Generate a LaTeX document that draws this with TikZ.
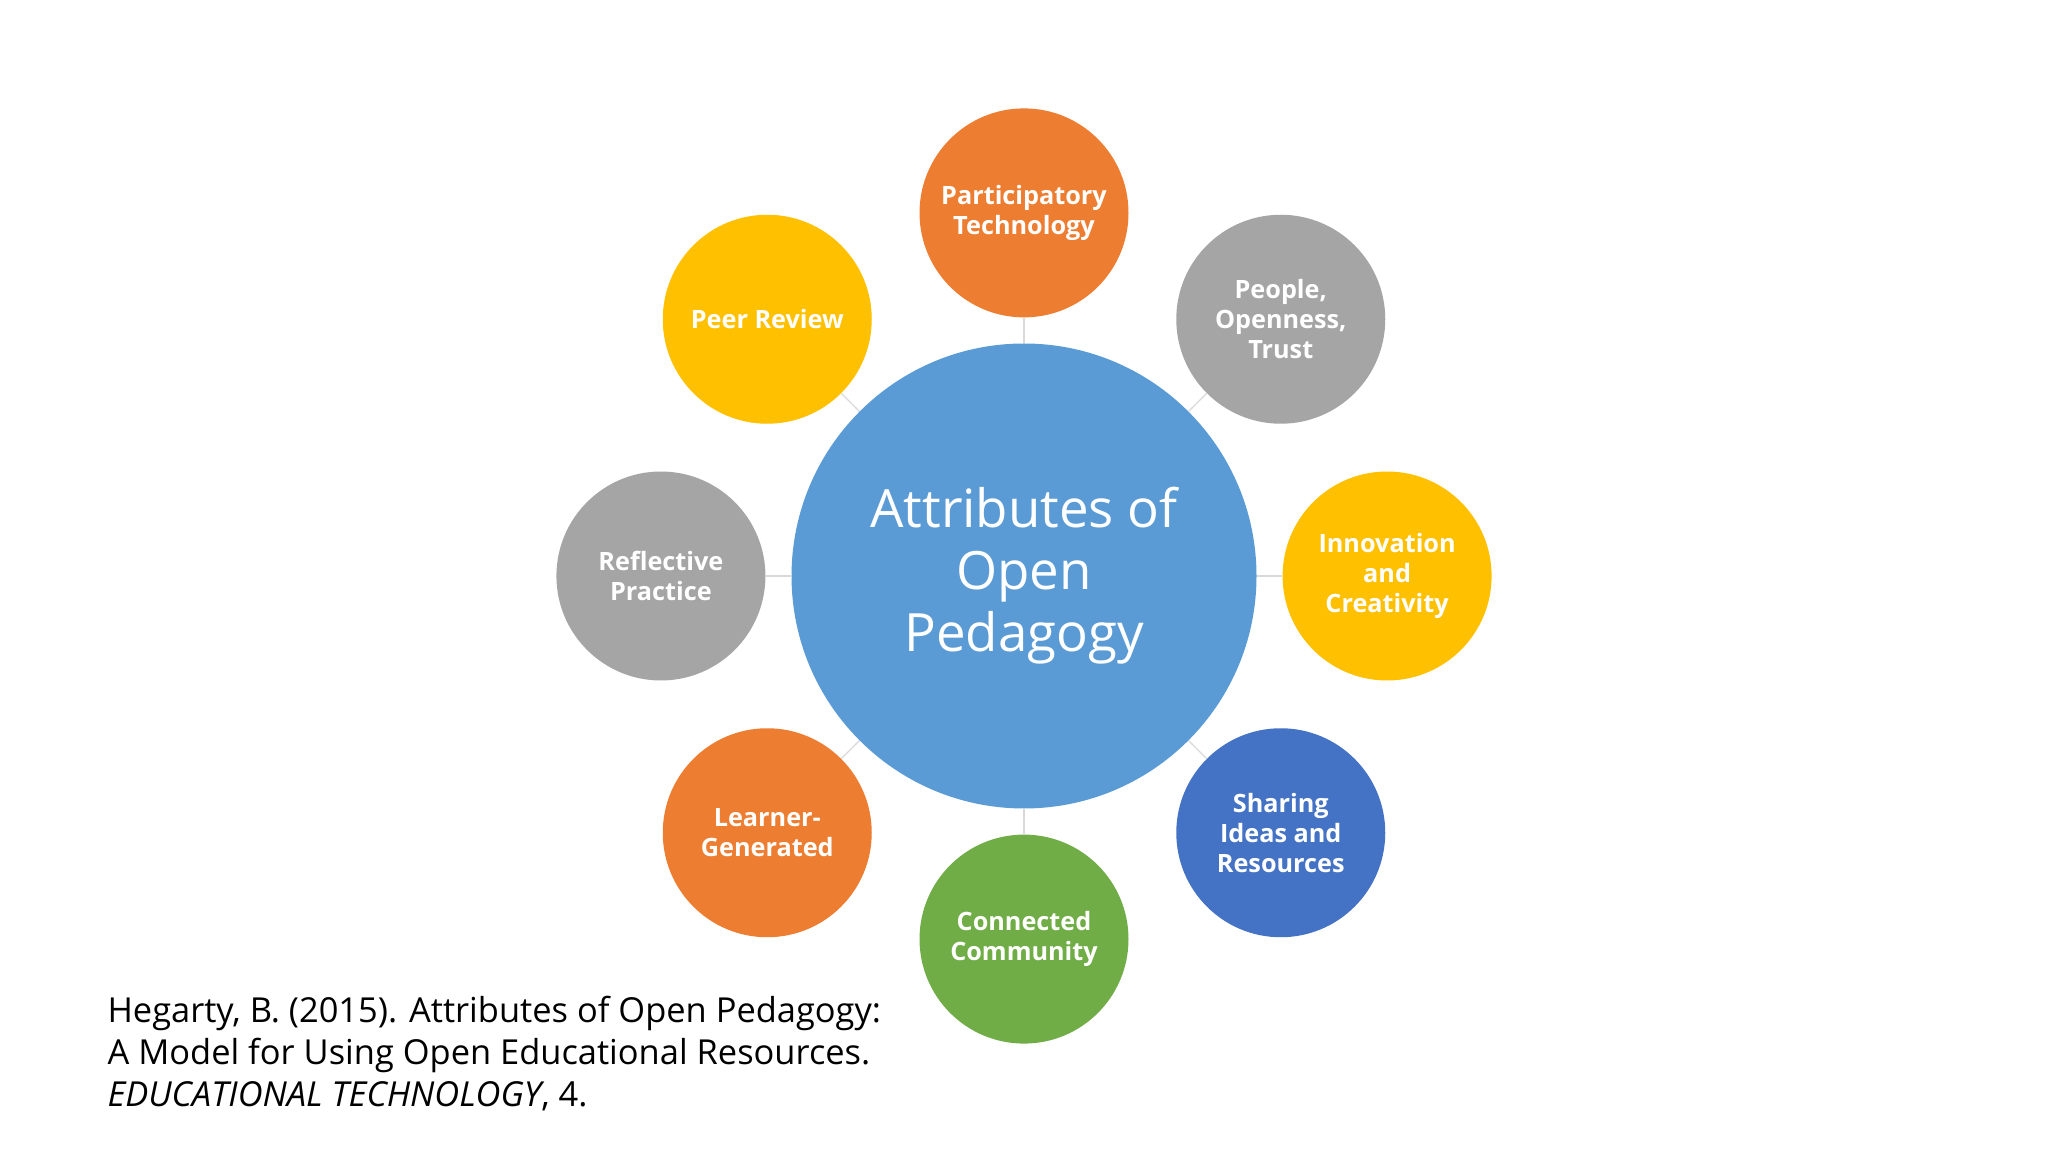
\documentclass[tikz,border=0pt]{standalone}
\usepackage{fontspec}
\setmainfont{Open Sans}
\usetikzlibrary{calc}
\begin{document}
\begin{tikzpicture}
\definecolor{cblue}{HTML}{5B9BD5}
\definecolor{corange}{HTML}{ED7D31}
\definecolor{cgray}{HTML}{A5A5A5}
\definecolor{cyellow}{HTML}{FFC000}
\definecolor{cdblue}{HTML}{4472C4}
\definecolor{cgreen}{HTML}{70AD47}
\tikzset{
  sat/.style={circle, minimum size=3.2cm, inner sep=0pt, text=white, align=center,
    font=\fontsize{11}{13}\selectfont\bfseries},
  link/.style={draw=black!15, line width=0.6pt}
}
\useasboundingbox[fill=white] (0,0) rectangle (31.36,17.64);
\node[circle, fill=cblue, minimum size=7.12cm, inner sep=0pt, text=white, align=center,
  font=\fontsize{23}{27}\selectfont] (c) at (15.68,8.82) {Attributes of\\Open\\Pedagogy};
\foreach \n/\a/\col/\txt in {
  t/90/corange/{Participatory\\Technology},
  ur/45/cgray/{People,\\Openness,\\Trust},
  r/0/cyellow/{Innovation\\and\\Creativity},
  lr/-45/cdblue/{Sharing\\Ideas and\\Resources},
  b/-90/cgreen/{Connected\\Community},
  ll/-135/corange/{Learner-\\Generated},
  l/180/cgray/{Reflective\\Practice},
  ul/135/cyellow/{Peer Review}}{
  \node[sat, fill=\col] (\n) at ($(c)+(\a:5.56)$) {\txt};
  \draw[link] (c) -- (\n);
}
\node[anchor=north west, align=left, inner sep=0pt,
  font=\fontsize{15}{18.5}\selectfont] (cite) at (1.64,2.4)
  {Hegarty, B. (2015). Attributes of Open Pedagogy:\\A Model for Using Open Educational Resources.\\\textit{EDUCATIONAL TECHNOLOGY}, 4.};
\end{tikzpicture}
\end{document}
